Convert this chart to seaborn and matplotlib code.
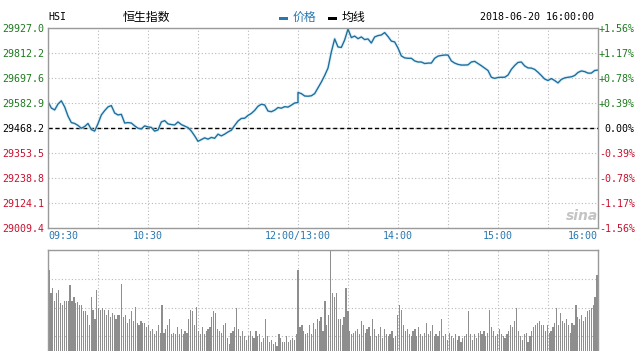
import numpy as np
import pandas as pd
import matplotlib
matplotlib.use("Agg")
import matplotlib.pyplot as plt
from matplotlib.patches import Rectangle
import seaborn as sns

# ---------------- data ----------------
prev_close = 29468.2
price_levels = [29927.0, 29812.2, 29697.6, 29582.9, 29468.2, 29353.5, 29238.8, 29124.1, 29009.4]
pct_labels = ["+1.56%", "+1.17%", "+0.78%", "+0.39%", "0.00%", "-0.39%", "-0.78%", "-1.17%", "-1.56%"]
time_labels = ["09:30", "10:30", "12:00/13:00", "14:00", "15:00", "16:00"]
time_label_minutes = [0, 60, 150, 210, 270, 330]

# 2-minute samples, 09:30-12:00
price_am = [29589, 29560, 29551, 29578, 29593, 29565, 29523, 29493, 29489, 29480,
            29467, 29475, 29489, 29461, 29454, 29488, 29528, 29548, 29565, 29571,
            29537, 29528, 29531, 29491, 29493, 29491, 29478, 29467, 29464, 29478,
            29473, 29471, 29454, 29459, 29496, 29502, 29487, 29484, 29482, 29496,
            29484, 29477, 29470, 29454, 29432, 29407, 29415, 29423, 29417, 29425,
            29421, 29440, 29432, 29440, 29450, 29458, 29480, 29500, 29512, 29513,
            29526, 29535, 29549, 29568, 29577, 29574, 29546, 29543, 29550, 29562,
            29559, 29566, 29564, 29573, 29583, 29585]
# 2-minute samples, 13:00-16:00
price_pm = [29631, 29626, 29615, 29614, 29616, 29626, 29652, 29679, 29709, 29743,
            29817, 29877, 29840, 29838, 29872, 29922, 29883, 29890, 29878, 29886,
            29874, 29877, 29858, 29886, 29892, 29895, 29906, 29888, 29867, 29863,
            29835, 29799, 29790, 29788, 29788, 29776, 29771, 29771, 29764, 29766,
            29766, 29788, 29798, 29801, 29803, 29803, 29776, 29766, 29760, 29757,
            29757, 29758, 29771, 29774, 29764, 29754, 29743, 29732, 29701, 29696,
            29700, 29701, 29701, 29711, 29737, 29755, 29769, 29771, 29753, 29744,
            29743, 29737, 29724, 29709, 29693, 29686, 29695, 29686, 29675, 29691,
            29698, 29701, 29703, 29709, 29723, 29730, 29727, 29720, 29720, 29732,
            29734]

volume = [96, 73, 78, 65, 73, 76, 63, 61, 65, 65,
          65, 81, 65, 69, 63, 64, 61, 61, 54, 54,
          50, 40, 69, 55, 46, 76, 57, 55, 57, 55,
          50, 55, 48, 52, 50, 46, 50, 50, 82, 48,
          50, 42, 46, 54, 44, 59, 42, 40, 44, 42,
          42, 38, 40, 34, 36, 31, 34, 40, 32, 61,
          32, 36, 40, 46, 31, 32, 31, 38, 31, 36,
          31, 34, 32, 46, 55, 54, 40, 59, 34, 31,
          38, 31, 34, 36, 38, 48, 54, 52, 36, 34,
          32, 40, 42, 27, 21, 32, 34, 38, 57, 36,
          29, 34, 29, 25, 29, 34, 29, 27, 34, 29,
          31, 23, 27, 46, 29, 23, 25, 21, 23, 19,
          31, 27, 23, 23, 29, 23, 25, 27, 25, 31,
          96, 38, 40, 34, 31, 32, 40, 31, 42, 36,
          46, 44, 48, 34, 65, 40, 50, 115, 73, 69,
          73, 46, 46, 40, 48, 78, 54, 34, 31, 32,
          34, 36, 31, 44, 40, 32, 36, 38, 29, 46,
          36, 29, 31, 38, 27, 36, 31, 29, 31, 34,
          27, 29, 50, 61, 55, 40, 34, 36, 31, 29,
          34, 36, 29, 38, 31, 29, 32, 42, 31, 34,
          40, 29, 31, 29, 34, 46, 29, 31, 25, 32,
          29, 27, 31, 25, 29, 23, 27, 29, 31, 54,
          31, 25, 31, 27, 32, 34, 31, 34, 29, 32,
          55, 38, 34, 29, 31, 36, 31, 29, 27, 31,
          34, 40, 38, 44, 57, 34, 29, 25, 31, 32,
          23, 29, 34, 38, 40, 42, 44, 40, 40, 34,
          40, 32, 34, 38, 42, 57, 40, 52, 44, 42,
          46, 40, 32, 42, 40, 61, 48, 46, 50, 44,
          48, 54, 55, 57, 61, 69, 91]

# ---------------- styling ----------------
sns.set_theme(style="white")
plt.rcParams["font.family"] = ["DejaVu Sans Mono", "Noto Sans CJK SC"]

W, H = 640, 351
fig = plt.figure(figsize=(W / 100, H / 100), dpi=100)

def fx(px):
    return px / W

def fy(py):
    return 1 - py / H

GREEN = "#1e7a1e"
RED = "#c8102e"
BLUE = "#2878b0"
LINE = "#1f6e9c"
GRID = "#b8b8b8"
SPINE = "#9a9a9a"

ax = fig.add_axes([fx(48), fy(228), fx(550), 200 / H])
axv = fig.add_axes([fx(48), fy(365), fx(550), 115 / H])

# ---------------- price panel ----------------
t_am = np.arange(0, 151, 2)
t_pm = np.arange(150, 331, 2)
df = pd.DataFrame({
    "t": np.concatenate([t_am, t_pm]),
    "price": price_am + price_pm,
})
sns.lineplot(data=df, x="t", y="price", estimator=None, sort=False,
             color="#cdeaf8", lw=2.4, alpha=0.6, ax=ax)
sns.lineplot(data=df, x="t", y="price", estimator=None, sort=False,
             color=LINE, lw=1.0, ax=ax)

ax.set_xlim(0, 330)
ax.set_ylim(price_levels[-1], price_levels[0])
ax.set_xticks(np.arange(0, 331, 30))
ax.set_yticks(price_levels)
ax.grid(True, ls=(0, (1, 2)), color=GRID, lw=0.8)
ax.axhline(prev_close, color="black", ls=(0, (3, 2)), lw=1.0, zorder=1)
ax.set_xlabel("")
ax.set_ylabel("")

lbls = []
for m in np.arange(0, 331, 30):
    lbls.append(time_labels[time_label_minutes.index(m)] if m in time_label_minutes else "")
ax.set_xticklabels(lbls)
ax.tick_params(axis="x", length=0, pad=2.5, labelsize=7.2, labelcolor=BLUE)
for t in ax.get_xticklabels():
    if t.get_text() == "09:30":
        t.set_ha("left")
    elif t.get_text() == "16:00":
        t.set_ha("right")

ax.set_yticklabels([f"{v:.1f}" for v in price_levels])
ax.tick_params(axis="y", length=0, pad=3, labelsize=7.2)
for i, t in enumerate(ax.get_yticklabels()):
    t.set_color(GREEN if i < 4 else ("black" if i == 4 else RED))

for s in ax.spines.values():
    s.set_color(SPINE)
    s.set_linewidth(1.0)

axr = ax.twinx()
axr.set_ylim(ax.get_ylim())
axr.set_yticks(price_levels)
axr.set_yticklabels(pct_labels)
axr.tick_params(axis="y", length=0, pad=26.5, labelsize=7.2)
for i, t in enumerate(axr.get_yticklabels()):
    t.set_ha("right")
    t.set_color(GREEN if i < 4 else ("black" if i == 4 else RED))
for s in axr.spines.values():
    s.set_visible(False)
axr.grid(False)

# sina watermark
ax.text(0.97, 0.06, "sina", transform=ax.transAxes, ha="center", va="center",
        fontsize=10, style="italic", weight="bold", color="#c4c4c4",
        family="DejaVu Sans")

# ---------------- volume panel ----------------
vol_t = np.linspace(0.6, 329.4, len(volume))
sns.barplot(x=vol_t, y=volume, native_scale=True, color="#8e8e8e",
            saturation=1, width=0.62, errorbar=None, linewidth=0, ax=axv)
axv.set_xlim(0, 330)
axv.set_ylim(0, 116)
axv.set_xticks(np.arange(0, 331, 30))
axv.set_yticks(np.linspace(0, 116, 5))
axv.set_xticklabels([])
axv.set_yticklabels([])
axv.tick_params(length=0)
axv.grid(True, ls=(0, (1, 2)), color=GRID, lw=0.8)
axv.set_axisbelow(True)
axv.set_xlabel("")
axv.set_ylabel("")
for s in axv.spines.values():
    s.set_color(SPINE)
    s.set_linewidth(1.0)

# ---------------- header ----------------
fig.text(fx(48), fy(17), "HSI", ha="left", va="center", fontsize=7.2, color="black")
fig.text(fx(123), fy(17.5), "恒生指数", ha="left", va="center", fontsize=8.6,
         family=["Noto Sans CJK SC"], color="black")
fig.add_artist(Rectangle((fx(279), fy(20)), fx(9), 3 / H, transform=fig.transFigure,
                         color=BLUE, lw=0))
fig.text(fx(293), fy(17.5), "价格", ha="left", va="center", fontsize=8.6,
         family=["Noto Sans CJK SC"], color=BLUE)
fig.add_artist(Rectangle((fx(328), fy(20)), fx(9), 3 / H, transform=fig.transFigure,
                         color="black", lw=0))
fig.text(fx(342), fy(17.5), "均线", ha="left", va="center", fontsize=8.6,
         family=["Noto Sans CJK SC"], color="black")
fig.text(fx(594), fy(17), "2018-06-20 16:00:00", ha="right", va="center",
         fontsize=7.2, color="black")

fig.savefig("out.png", dpi=100)
